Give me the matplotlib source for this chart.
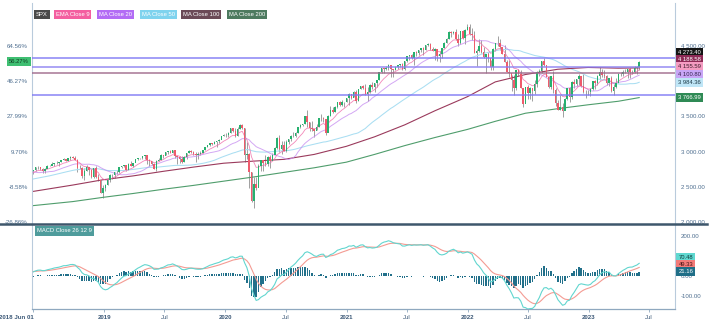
import matplotlib
matplotlib.use("Agg")
import matplotlib.pyplot as plt
from matplotlib.lines import Line2D
import matplotlib.dates as mdates
import numpy as np
import pandas as pd

plt.rcParams['font.family'] = ['Liberation Sans', 'DejaVu Sans']

# ---------------- data (weekly SPX) ----------------
# weekly closes before the visible window (Jun 2017 - May 2018), used only to warm up indicators
warmup_close = [2439.07, 2431.77, 2433.15, 2438.30, 2423.41, 2425.18, 2459.27, 2472.54, 2472.10, 2476.83,
                2441.32, 2425.55, 2443.05, 2476.55, 2461.43, 2500.23, 2502.22, 2519.36, 2549.33, 2553.17,
                2575.21, 2581.07, 2587.84, 2582.30, 2578.85, 2602.42, 2642.22, 2651.50, 2675.81, 2683.34,
                2673.61, 2743.15, 2786.24, 2810.30, 2872.87, 2762.13, 2619.55, 2732.22, 2747.30, 2691.25,
                2786.57, 2752.01, 2588.26, 2640.87, 2604.47, 2656.30, 2670.14, 2669.91, 2663.42, 2727.72,
                2712.97, 2721.33]

close_2018 = [2734.62, 2779.03, 2779.66, 2754.88, 2718.37, 2759.82, 2801.31, 2801.83, 2818.82, 2840.35, 2833.28,
              2850.13, 2874.69, 2901.52, 2871.68, 2904.98, 2929.67, 2913.98, 2885.57, 2767.13, 2767.78, 2658.69,
              2723.06, 2781.01, 2736.27, 2632.56, 2760.17, 2633.08, 2599.95, 2416.62, 2485.74]
high_2018 = [2736, 2780, 2789, 2774, 2764, 2760, 2804, 2816, 2848, 2841, 2863, 2855, 2877, 2916, 2900, 2906, 2940,
             2939, 2939, 2894, 2816, 2778, 2766, 2815, 2786, 2746, 2760, 2800, 2685, 2601, 2520]
low_2018 = [2676, 2727, 2753, 2743, 2691, 2698, 2770, 2789, 2808, 2796, 2825, 2802, 2853, 2884, 2864, 2864, 2886,
            2904, 2874, 2710, 2755, 2628, 2603, 2722, 2670, 2631, 2631, 2621, 2583, 2410, 2346]

close_2019 = [2531.94, 2596.26, 2670.71, 2664.76, 2706.53, 2707.88, 2775.60, 2792.67, 2803.69, 2743.07, 2822.48,
              2800.71, 2834.40, 2892.74, 2907.41, 2905.03, 2939.88, 2945.64, 2881.40, 2859.53, 2826.06, 2752.06,
              2873.34, 2886.98, 2950.46, 2941.76, 2990.41, 3013.77, 2976.61, 3025.86, 2932.05, 2918.65, 2888.68,
              2847.11, 2926.46, 2978.71, 3007.39, 2992.07, 2961.79, 2952.01, 2970.27, 2986.20, 3022.55, 3066.91,
              3093.08, 3120.46, 3110.29, 3140.98, 3145.91, 3168.80, 3221.22, 3240.02]
high_2019 = [2539, 2604, 2675, 2675, 2708, 2738, 2776, 2795, 2814, 2816, 2831, 2860, 2836, 2893, 2910, 2910, 2940,
             2954, 2932, 2892, 2872, 2840, 2885, 2910, 2964, 2958, 2996, 3014, 3018, 3028, 3027, 2944, 2943, 2939,
             2940, 2986, 3021, 3022, 3002, 2993, 2993, 3008, 3027, 3067, 3097, 3121, 3128, 3154, 3147, 3183, 3226,
             3248]
low_2019 = [2443, 2524, 2570, 2612, 2631, 2681, 2703, 2764, 2775, 2722, 2741, 2800, 2785, 2848, 2874, 2893, 2898,
            2900, 2825, 2801, 2805, 2750, 2728, 2873, 2874, 2912, 2954, 2966, 2975, 2975, 2914, 2822, 2834, 2834,
            2856, 2892, 2979, 2986, 2946, 2856, 2893, 2956, 2981, 3023, 3065, 3084, 3091, 3112, 3070, 3120, 3183,
            3223]

close_2020 = [3234.85, 3265.35, 3329.62, 3295.47, 3225.52, 3327.71, 3380.16, 3337.75, 2954.22, 2972.37, 2711.02,
              2304.92, 2541.47, 2488.65, 2789.82, 2874.56, 2836.74, 2830.71, 2929.80, 2863.70, 2955.45, 3044.31,
              3193.93, 3041.31, 3097.74, 3009.05, 3130.01, 3185.04, 3224.73, 3215.63, 3271.12, 3351.28, 3372.85,
              3397.16, 3508.01, 3426.96, 3340.97, 3319.47, 3298.46, 3348.44, 3477.13, 3483.81, 3465.39, 3269.96,
              3509.44, 3585.15, 3557.54, 3638.35, 3699.12, 3663.46, 3709.41, 3703.06, 3756.07]
high_2020 = [3258, 3282, 3330, 3338, 3333, 3347, 3385, 3393, 3337, 3136, 2985, 2711, 2637, 2641, 2818, 2880, 2870,
             2954, 2934, 2954, 2981, 3068, 3211, 3233, 3155, 3153, 3165, 3186, 3238, 3280, 3272, 3352, 3387, 3399,
             3509, 3588, 3425, 3429, 3323, 3397, 3482, 3534, 3494, 3466, 3521, 3646, 3629, 3645, 3699, 3712, 3726,
             3711, 3760]
low_2020 = [3212, 3214, 3263, 3283, 3214, 3223, 3315, 3328, 2856, 2901, 2478, 2280, 2192, 2448, 2505, 2729, 2727,
            2797, 2797, 2766, 2899, 2969, 3038, 2999, 2966, 3007, 2999, 3115, 3151, 3201, 3205, 3260, 3340, 3363,
            3396, 3349, 3293, 3292, 3209, 3303, 3355, 3440, 3415, 3233, 3279, 3512, 3551, 3559, 3622, 3647, 3647,
            3636, 3703]

close_2021 = [3824.68, 3768.25, 3841.47, 3714.24, 3886.83, 3934.83, 3906.71, 3811.15, 3841.94, 3943.34, 3913.10,
              3974.54, 4019.87, 4128.80, 4185.47, 4180.17, 4181.17, 4232.60, 4173.85, 4155.86, 4204.11, 4229.89,
              4247.44, 4166.45, 4280.70, 4352.34, 4369.55, 4327.16, 4411.79, 4395.26, 4436.52, 4468.00, 4441.67,
              4509.37, 4535.43, 4458.58, 4432.99, 4455.48, 4357.04, 4391.34, 4471.37, 4544.90, 4605.38, 4697.53,
              4682.85, 4697.96, 4594.62, 4538.43, 4712.02, 4620.64, 4725.79, 4766.18]
high_2021 = [3826, 3823, 3861, 3870, 3894, 3937, 3950, 3959, 3915, 3960, 3983, 3975, 4020, 4130, 4191, 4194, 4219,
             4238, 4237, 4173, 4219, 4234, 4249, 4256, 4287, 4356, 4372, 4393, 4415, 4429, 4441, 4469, 4480, 4513,
             4545, 4537, 4486, 4466, 4457, 4429, 4475, 4560, 4608, 4718, 4715, 4718, 4744, 4672, 4713, 4732, 4740,
             4808]
low_2021 = [3662, 3750, 3769, 3694, 3725, 3884, 3885, 3805, 3723, 3827, 3886, 3853, 3917, 4020, 4118, 4119, 4164,
            4160, 4057, 4061, 4156, 4167, 4206, 4165, 4165, 4267, 4300, 4321, 4233, 4360, 4368, 4420, 4368, 4442,
            4500, 4447, 4428, 4305, 4288, 4279, 4329, 4465, 4537, 4595, 4630, 4672, 4585, 4495, 4532, 4600, 4531,
            4733]

close_2022 = [4677.03, 4662.85, 4397.94, 4431.85, 4500.53, 4418.64, 4348.87, 4384.65, 4328.87, 4204.31, 4463.12,
              4543.06, 4545.86, 4488.28, 4392.59, 4271.78, 4131.93, 4123.34, 4023.89, 3901.36, 4158.24, 4108.54,
              3900.86, 3674.84, 3911.74, 3825.33, 3899.38, 3863.16, 3961.63, 4130.29, 4145.19, 4280.15, 4228.48,
              4057.66, 3924.26, 4067.36, 3873.33, 3693.23, 3585.62, 3639.66, 3583.07, 3752.75, 3901.06, 3770.55,
              3992.93, 3965.34, 4026.12, 4071.70, 3934.38, 3852.36, 3844.82, 3839.50]
high_2022 = [4819, 4749, 4714, 4454, 4595, 4590, 4490, 4385, 4416, 4300, 4466, 4546, 4637, 4593, 4471, 4513, 4308,
             4307, 4082, 4090, 4158, 4178, 4164, 3876, 3913, 3946, 3918, 3907, 4012, 4140, 4167, 4281, 4325, 4203,
             4074, 4077, 4140, 3907, 3736, 3806, 3690, 3762, 3905, 3911, 4002, 4028, 4034, 4101, 4052, 4101, 3877,
             3878]
low_2022 = [4663, 4582, 4395, 4223, 4420, 4401, 4327, 4115, 4275, 4157, 4162, 4424, 4506, 4450, 4381, 4268, 4124,
            4062, 3859, 3811, 3876, 4074, 3900, 3637, 3705, 3741, 3744, 3721, 3818, 3911, 4079, 4112, 4218, 4057,
            3907, 3886, 3838, 3648, 3584, 3589, 3492, 3591, 3735, 3699, 3751, 3907, 3938, 3940, 3918, 3828, 3764,
            3800]

close_2023 = [3895.08, 3999.09, 3972.61, 4070.56, 4136.48, 4090.46, 4079.09, 3970.04, 4045.64, 3861.59, 3916.64,
              3970.99, 4109.31, 4105.02, 4137.64, 4133.52, 4169.48, 4136.25, 4124.08, 4191.98, 4205.45, 4273.40]
high_2023 = [3906, 4003, 4015, 4094, 4195, 4176, 4156, 4081, 4049, 4079, 3965, 4039, 4110, 4133, 4164, 4170, 4170,
             4186, 4152, 4213, 4212, 4290]
low_2023 = [3794, 3877, 3885, 3940, 4015, 4060, 4048, 3943, 3929, 3847, 3808, 3900, 3975, 4069, 4073, 4113, 4049,
            4048, 4098, 4110, 4103, 4166]

first_week = '2018-06-01'

# slow moving averages (knots)
ma100_dates = ['2018-06-01', '2018-09-28', '2018-12-28', '2019-03-29', '2019-06-28', '2019-09-27', '2019-12-27',
               '2020-03-27', '2020-06-26', '2020-09-25', '2020-12-31', '2021-03-26', '2021-06-25', '2021-09-24',
               '2021-12-31', '2022-03-25', '2022-06-24', '2022-09-30', '2022-12-30', '2023-03-31', '2023-06-02']
ma100_values = [2435, 2525, 2600, 2655, 2720, 2780, 2835, 2865, 2890, 2960, 3075, 3210, 3380, 3580, 3780, 3990,
                4095, 4170, 4195, 4185, 4188.58]
ma200_dates = ['2018-06-01', '2018-09-28', '2018-12-28', '2019-03-29', '2019-06-28', '2019-09-27', '2019-12-27',
               '2020-03-27', '2020-06-26', '2020-09-25', '2020-12-31', '2021-03-26', '2021-06-25', '2021-09-24',
               '2021-12-31', '2022-03-25', '2022-06-24', '2022-09-30', '2022-12-30', '2023-03-31', '2023-06-02']
ma200_values = [2233, 2290, 2350, 2405, 2465, 2520, 2580, 2640, 2705, 2770, 2850, 2960, 3085, 3200, 3315, 3430,
                3545, 3610, 3665, 3715, 3766.99]

# last-value tags as displayed
tag_values = [4273.40, 4188.58, 4155.59, 4100.80, 3984.36, 3766.99]
tag_colors = ['#141414', '#8e2a56', '#f59cc2', '#c8a6f7', '#bfe6f7', '#2f8a55']
tag_text_colors = ['white', 'white', '#3a1d2a', '#35254f', '#1d3a48', 'white']
macd_tag_values = [70.48, 49.33, 21.16]
macd_tag_colors = ['#5fd8d0', '#f27b79', '#1f6e87']
macd_tag_text_colors = ['#0d3a3a', '#4a1414', 'white']

# horizontal levels drawn on the chart
level_prices = [4330, 4195, 4118, 3805]
level_colors = ['#7c77f4', '#8a7ff1', '#9d6789', '#7c77f4']

legend_labels = ['SPX', 'EMA Close 9', 'MA Close 20', 'MA Close 50', 'MA Close 100', 'MA Close 200']
legend_colors = ['#4a4a4a', '#f45fa0', '#b36cf5', '#7fd3ee', '#6b4a57', '#4d7a5f']

price_ticks = [2000, 2500, 3000, 3500, 4000, 4500]
price_ticks_hidden = [4000]        # covered by the value tags in the reference
macd_ticks = [-100, 0, 100, 200]
macd_ticks_hidden = [100]
x_tick_dates = ['2018-06-01', '2019-01-01', '2019-07-01', '2020-01-01', '2020-07-01', '2021-01-01',
                '2021-07-01', '2022-01-01', '2022-07-01', '2023-01-01', '2023-07-01']
x_tick_labels = ['2018 Jun 01', '2019', 'Jul', '2020', 'Jul', '2021', 'Jul', '2022', 'Jul', '2023', 'Jul']

# ---------------- derived series ----------------
close = np.array(close_2018 + close_2019 + close_2020 + close_2021 + close_2022 + close_2023, dtype=float)
high = np.array(high_2018 + high_2019 + high_2020 + high_2021 + high_2022 + high_2023, dtype=float)
low = np.array(low_2018 + low_2019 + low_2020 + low_2021 + low_2022 + low_2023, dtype=float)
opn = np.concatenate([[warmup_close[-1]], close[:-1]])
dates = pd.date_range(first_week, periods=len(close), freq='W-FRI')
xd = mdates.date2num(dates)

nw = len(warmup_close)
full = pd.Series(list(warmup_close) + list(close))
ema9 = full.ewm(span=9, adjust=False).mean().values[nw:]
ma20 = full.rolling(20, min_periods=1).mean().values[nw:]
ma50 = full.rolling(50, min_periods=1).mean().values[nw:]
ema12 = full.ewm(span=12, adjust=False).mean()
ema26 = full.ewm(span=26, adjust=False).mean()
macd_full = ema12 - ema26
signal_full = macd_full.ewm(span=9, adjust=False).mean()
macd = macd_full.values[nw:]
signal = signal_full.values[nw:]
hist = macd - signal

base = close[0]

# ---------------- figure ----------------
W, H = 715, 330
fig = plt.figure(figsize=(W / 100, H / 100), dpi=100)
fig.patch.set_facecolor('white')

L, R = 32, 675
ax = fig.add_axes([L / W, 1 - 224 / H, (R - L) / W, (224 - 3) / H])
axm = fig.add_axes([L / W, 1 - 309 / H, (R - L) / W, (309 - 224) / H], sharex=ax)
axl = ax.twinx()   # left percent scale

axis_col = '#b9cbdc'
lab_col = '#4f6f90'
fs = 4.4

# candles
up = close >= opn
bull, bear = '#27b06e', '#ef5b6c'
cols = np.where(up, bull, bear)
ax.vlines(xd, low, high, colors='#7a7a7a', lw=0.5, zorder=2)
ax.bar(xd, np.abs(close - opn), bottom=np.minimum(close, opn), width=4.6, color=cols,
       linewidth=0, zorder=3)

# moving averages
ax.plot(xd, ma50, color='#a9def2', lw=0.75, zorder=2.5)
ax.plot(mdates.date2num(pd.to_datetime(ma200_dates)), ma200_values, color='#4f9d6c', lw=0.8, zorder=2.5)
ax.plot(mdates.date2num(pd.to_datetime(ma100_dates)), ma100_values, color='#9a3a5c', lw=0.8, zorder=2.5)
ax.plot(xd, ma20, color='#c58af0', lw=0.7, alpha=0.75, zorder=2.6)
ax.plot(xd, ema9, color='#f06aa8', lw=0.6, alpha=0.8, zorder=2.7)

# horizontal levels
for p, c in zip(level_prices, level_colors):
    ax.axhline(p, color=c, lw=1.1, alpha=0.9, zorder=4)

x0 = mdates.date2num(pd.Timestamp('2018-05-28'))
x1 = mdates.date2num(pd.Timestamp('2023-09-18'))
ax.set_xlim(x0, x1)
ymin = 2000 - 2 / 0.0704
ymax = 4500 + 43 / 0.0704
ax.set_ylim(ymin, ymax)

ax.yaxis.tick_right()
ax.yaxis.set_label_position('right')
ax.set_yticks(price_ticks)
ax.set_yticklabels(["" if t in price_ticks_hidden else f"{t:,.2f}".replace(',', ' ') for t in price_ticks])
ax.tick_params(axis='y', which='both', left=False, labelleft=False, right=False, labelright=True,
               length=0, pad=4, labelsize=fs, labelcolor=lab_col)
ax.tick_params(axis='x', length=0, labelbottom=False)
for s in ['top', 'bottom']:
    ax.spines[s].set_visible(False)
for s in ['left', 'right']:
    ax.spines[s].set_color(axis_col)
    ax.spines[s].set_linewidth(0.8)

axl.set_ylim(ax.get_ylim())
axl.set_yticks(price_ticks)
axl.set_yticklabels([f"{(t / base - 1) * 100:.2f}%" for t in price_ticks])
axl.tick_params(axis='y', which='both', left=False, labelleft=True, right=False, labelright=False,
                length=0, pad=3, labelsize=fs, labelcolor=lab_col)
for s in axl.spines.values():
    s.set_visible(False)

# MACD panel
axm.bar(xd, hist, width=4.2, color='#22708a', linewidth=0, zorder=2)
axm.plot(xd, signal, color='#f49b93', lw=0.8, zorder=3)
axm.plot(xd, macd, color='#62d6cf', lw=0.8, zorder=3)
axm.set_ylim(-162, 258)
axm.yaxis.tick_right()
axm.set_yticks(macd_ticks)
axm.set_yticklabels(["" if t in macd_ticks_hidden else f"{t:.2f}" for t in macd_ticks])
axm.tick_params(axis='y', length=0, pad=4, labelsize=fs, labelcolor=lab_col)
axm.spines['top'].set_visible(False)
for s in ['left', 'right']:
    axm.spines[s].set_color(axis_col)
    axm.spines[s].set_linewidth(0.8)
axm.spines['bottom'].set_color('#8fa8bf')
axm.spines['bottom'].set_linewidth(0.9)

axm.set_xticks(mdates.date2num(pd.to_datetime(x_tick_dates)))
axm.set_xticklabels(x_tick_labels)
axm.tick_params(axis='x', length=2.5, width=0.6, color='#8fa8bf', pad=1.5, labelsize=fs, labelcolor='#3b5877')
for i, t in enumerate(axm.get_xticklabels()):
    if x_tick_labels[i].isdigit() or i == 0:
        t.set_fontweight('bold')
    if i == 0:
        t.set_ha('right')

# separator between panels
fig.add_artist(Line2D([0, 707 / W], [1 - 224.3 / H] * 2, color='#3e576c', lw=1.8))

# legend boxes
legend_x = [34, 54, 97, 140, 181, 227]
for lx, lab, c in zip(legend_x, legend_labels, legend_colors):
    fig.text((lx + 1.8) / W, 1 - 14.5 / H, lab, fontsize=4.2, color='white', va='center', ha='left',
             bbox=dict(boxstyle='square,pad=0.35', fc=c, ec='none'))
fig.text(36.8 / W, 1 - 231 / H, 'MACD Close 26 12 9', fontsize=4.2, color='white', va='center', ha='left',
         bbox=dict(boxstyle='square,pad=0.35', fc='#4f9c9c', ec='none'))

# value tags (stacked to avoid overlap)
fig.canvas.draw()


def stacked(axis, values, gap):
    disp = [axis.transData.transform((x0, v))[1] for v in values]
    order = np.argsort(disp)
    pos = list(disp)
    prev = None
    for i in order:
        if prev is not None and pos[i] < prev + gap:
            pos[i] = prev + gap
        prev = pos[i]
    return pos


for v, yp, fc, tc in zip(tag_values, stacked(ax, tag_values, 7.2), tag_colors, tag_text_colors):
    fig.text(678.5 / W, yp / H, f"{v:,.2f}".replace(',', ' '), fontsize=4.2, color=tc, va='center',
             ha='left', bbox=dict(boxstyle='square,pad=0.35', fc=fc, ec='none'))
for v, yp, fc, tc in zip(macd_tag_values, stacked(axm, macd_tag_values, 7.2), macd_tag_colors,
                         macd_tag_text_colors):
    fig.text(678.5 / W, yp / H, f"{v:.2f}", fontsize=4.2, color=tc, va='center', ha='left',
             bbox=dict(boxstyle='square,pad=0.35', fc=fc, ec='none'))

# left percent tag for last close
last_y = ax.transData.transform((x0, close[-1]))[1]
fig.text(29 / W, last_y / H, f"{(close[-1] / base - 1) * 100:.2f}%", fontsize=4.2, color='#0f3a20',
         va='center', ha='right', bbox=dict(boxstyle='square,pad=0.35', fc='#3fbf72', ec='none'))

fig.savefig('out.png', dpi=100, facecolor='white')
